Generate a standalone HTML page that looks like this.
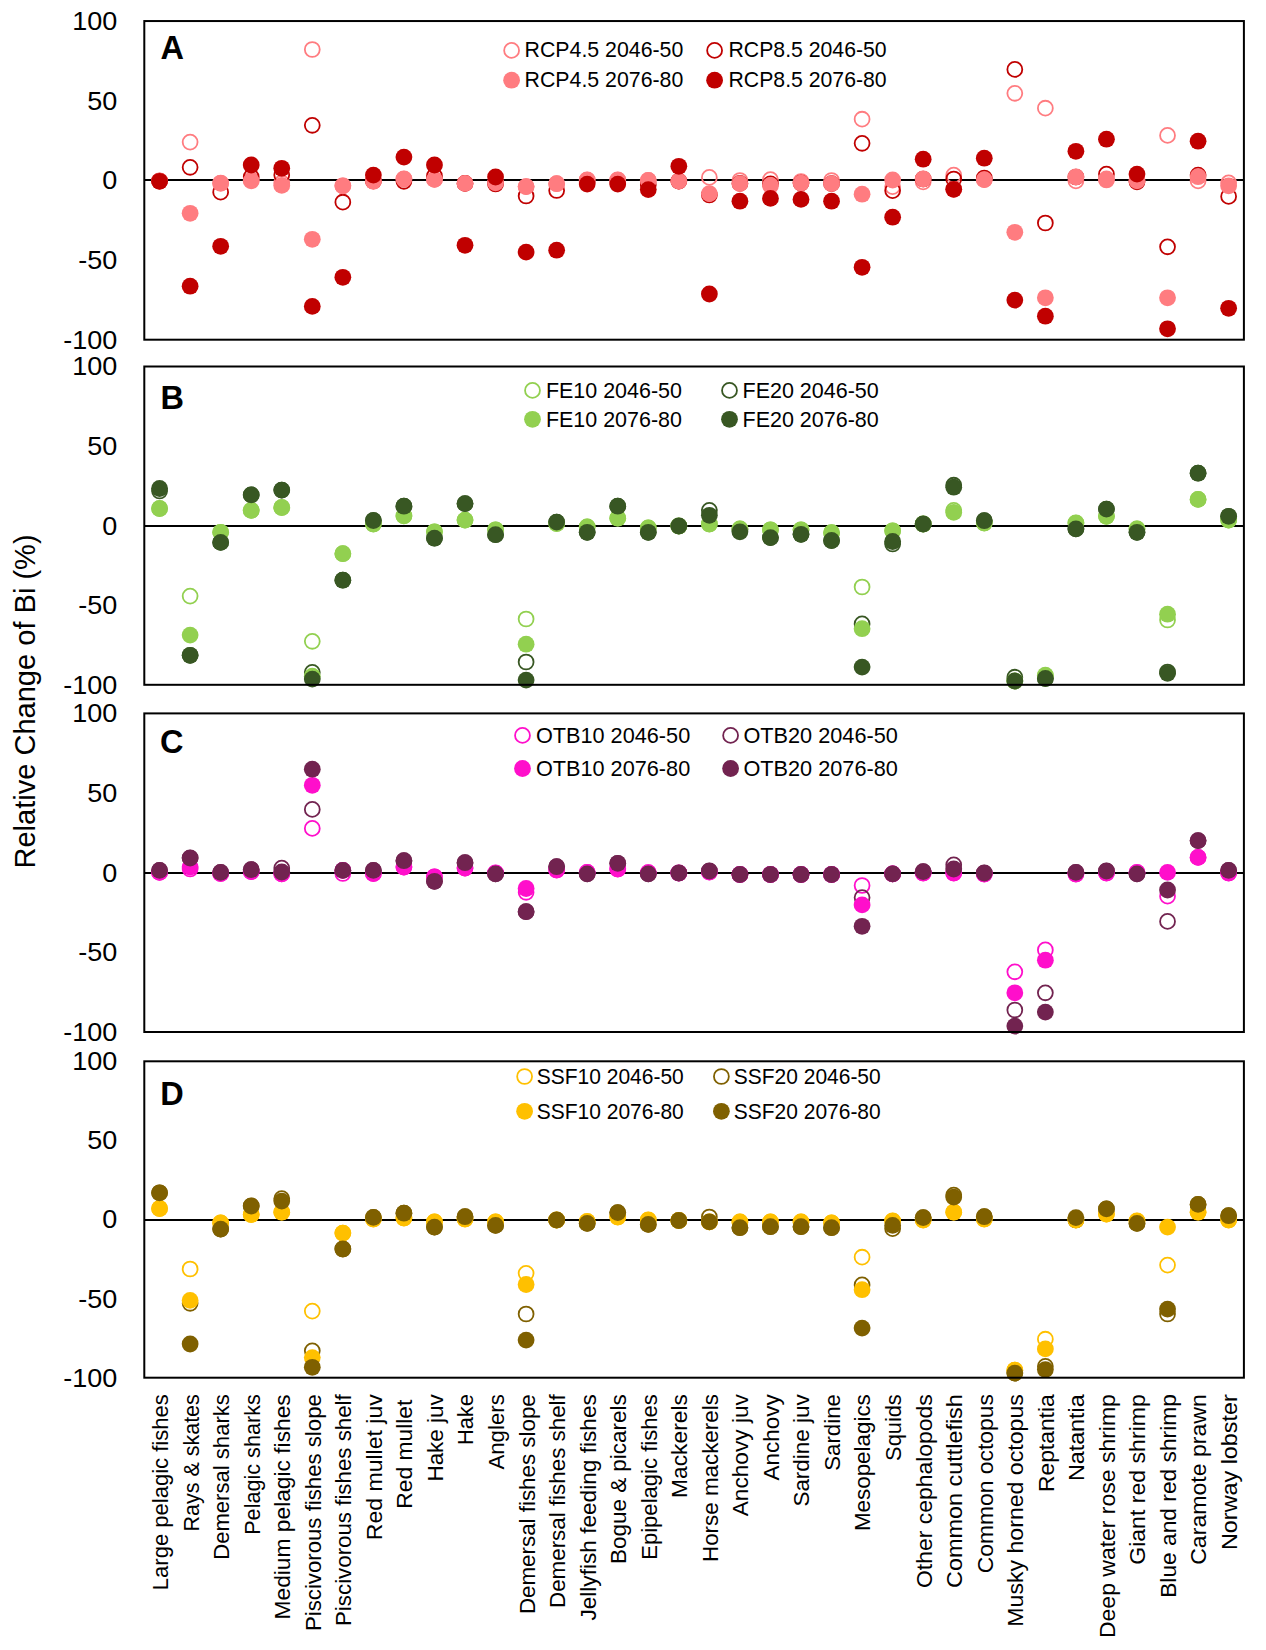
<!DOCTYPE html>
<html><head><meta charset="utf-8"><title>Relative Change of Bi</title>
<style>
html,body{margin:0;padding:0;background:#fff;}
body{width:1266px;height:1650px;overflow:hidden;}
svg{display:block;font-family:"Liberation Sans",sans-serif;}
.t{font-size:25px;fill:#000;}
.lg{font-size:22px;fill:#000;}
.cat{font-size:22.3px;fill:#000;}
.pl{font-size:32.5px;font-weight:bold;fill:#000;}
.yt{font-size:29.5px;fill:#000;}
</style></head><body>
<svg width="1266" height="1650" viewBox="0 0 1266 1650">
<rect width="1266" height="1650" fill="#fff"/>

<text class="t" transform="translate(117.3,30) scale(1.08,1)" text-anchor="end">100</text>
<text class="t" transform="translate(117.3,109.66) scale(1.08,1)" text-anchor="end">50</text>
<text class="t" transform="translate(117.3,189.32) scale(1.08,1)" text-anchor="end">0</text>
<text class="t" transform="translate(117.3,268.99) scale(1.08,1)" text-anchor="end">-50</text>
<text class="t" transform="translate(117.3,348.65) scale(1.08,1)" text-anchor="end">-100</text>
<line x1="144.3" y1="179.95" x2="1243.9" y2="179.95" stroke="#000" stroke-width="2.0"/>
<g fill="none" stroke="#FF7C80" stroke-width="1.8"><circle cx="159.57" cy="181" r="7.45"/><circle cx="190.12" cy="142.1" r="7.45"/><circle cx="220.66" cy="183" r="7.45"/><circle cx="251.21" cy="180" r="7.45"/><circle cx="281.75" cy="183" r="7.45"/><circle cx="312.29" cy="49.5" r="7.45"/><circle cx="342.84" cy="185.8" r="7.45"/><circle cx="373.38" cy="181" r="7.45"/><circle cx="403.93" cy="179" r="7.45"/><circle cx="434.47" cy="179.4" r="7.45"/><circle cx="465.02" cy="183.4" r="7.45"/><circle cx="495.56" cy="182.9" r="7.45"/><circle cx="526.11" cy="186.6" r="7.45"/><circle cx="556.65" cy="183.7" r="7.45"/><circle cx="587.19" cy="180" r="7.45"/><circle cx="617.74" cy="180" r="7.45"/><circle cx="648.28" cy="180.4" r="7.45"/><circle cx="678.83" cy="181.1" r="7.45"/><circle cx="709.37" cy="177.4" r="7.45"/><circle cx="739.92" cy="180.5" r="7.45"/><circle cx="770.46" cy="179.6" r="7.45"/><circle cx="801.01" cy="181.5" r="7.45"/><circle cx="831.55" cy="180.5" r="7.45"/><circle cx="862.09" cy="119.2" r="7.45"/><circle cx="892.64" cy="186.7" r="7.45"/><circle cx="923.18" cy="181.9" r="7.45"/><circle cx="953.73" cy="175.1" r="7.45"/><circle cx="984.27" cy="179.6" r="7.45"/><circle cx="1014.82" cy="93.3" r="7.45"/><circle cx="1045.36" cy="108.2" r="7.45"/><circle cx="1075.91" cy="180.9" r="7.45"/><circle cx="1106.45" cy="180" r="7.45"/><circle cx="1136.99" cy="180.9" r="7.45"/><circle cx="1167.54" cy="135.4" r="7.45"/><circle cx="1198.08" cy="180.9" r="7.45"/><circle cx="1228.63" cy="182.9" r="7.45"/></g>
<g fill="none" stroke="#C00000" stroke-width="1.8"><circle cx="159.57" cy="181" r="7.45"/><circle cx="190.12" cy="167.3" r="7.45"/><circle cx="220.66" cy="192.2" r="7.45"/><circle cx="251.21" cy="177" r="7.45"/><circle cx="281.75" cy="175.1" r="7.45"/><circle cx="312.29" cy="125.3" r="7.45"/><circle cx="342.84" cy="202.2" r="7.45"/><circle cx="373.38" cy="181" r="7.45"/><circle cx="403.93" cy="181.3" r="7.45"/><circle cx="434.47" cy="176" r="7.45"/><circle cx="465.02" cy="183.4" r="7.45"/><circle cx="495.56" cy="184" r="7.45"/><circle cx="526.11" cy="196" r="7.45"/><circle cx="556.65" cy="190.5" r="7.45"/><circle cx="587.19" cy="182" r="7.45"/><circle cx="617.74" cy="182" r="7.45"/><circle cx="648.28" cy="185" r="7.45"/><circle cx="678.83" cy="181.1" r="7.45"/><circle cx="709.37" cy="195" r="7.45"/><circle cx="739.92" cy="183.4" r="7.45"/><circle cx="770.46" cy="183.8" r="7.45"/><circle cx="801.01" cy="183.1" r="7.45"/><circle cx="831.55" cy="183.6" r="7.45"/><circle cx="862.09" cy="143.3" r="7.45"/><circle cx="892.64" cy="190.6" r="7.45"/><circle cx="923.18" cy="179" r="7.45"/><circle cx="953.73" cy="179" r="7.45"/><circle cx="984.27" cy="178" r="7.45"/><circle cx="1014.82" cy="69.4" r="7.45"/><circle cx="1045.36" cy="223" r="7.45"/><circle cx="1075.91" cy="177" r="7.45"/><circle cx="1106.45" cy="174.1" r="7.45"/><circle cx="1136.99" cy="181.9" r="7.45"/><circle cx="1167.54" cy="246.8" r="7.45"/><circle cx="1198.08" cy="175.1" r="7.45"/><circle cx="1228.63" cy="196.4" r="7.45"/></g>
<g fill="#FF7C80"><circle cx="159.57" cy="181" r="8.4"/><circle cx="190.12" cy="213.3" r="8.4"/><circle cx="220.66" cy="183.4" r="8.4"/><circle cx="251.21" cy="180.9" r="8.4"/><circle cx="281.75" cy="185.4" r="8.4"/><circle cx="312.29" cy="239.3" r="8.4"/><circle cx="342.84" cy="185.8" r="8.4"/><circle cx="373.38" cy="181.3" r="8.4"/><circle cx="403.93" cy="179" r="8.4"/><circle cx="434.47" cy="179.4" r="8.4"/><circle cx="465.02" cy="183.4" r="8.4"/><circle cx="495.56" cy="182.9" r="8.4"/><circle cx="526.11" cy="186.6" r="8.4"/><circle cx="556.65" cy="183.7" r="8.4"/><circle cx="587.19" cy="180" r="8.4"/><circle cx="617.74" cy="180" r="8.4"/><circle cx="648.28" cy="180.4" r="8.4"/><circle cx="678.83" cy="181.1" r="8.4"/><circle cx="709.37" cy="193.6" r="8.4"/><circle cx="739.92" cy="183.6" r="8.4"/><circle cx="770.46" cy="185.5" r="8.4"/><circle cx="801.01" cy="183.1" r="8.4"/><circle cx="831.55" cy="183.6" r="8.4"/><circle cx="862.09" cy="194.2" r="8.4"/><circle cx="892.64" cy="180" r="8.4"/><circle cx="923.18" cy="179" r="8.4"/><circle cx="953.73" cy="189.3" r="8.4"/><circle cx="984.27" cy="179.6" r="8.4"/><circle cx="1014.82" cy="232.3" r="8.4"/><circle cx="1045.36" cy="297.8" r="8.4"/><circle cx="1075.91" cy="177" r="8.4"/><circle cx="1106.45" cy="179" r="8.4"/><circle cx="1136.99" cy="180.9" r="8.4"/><circle cx="1167.54" cy="297.8" r="8.4"/><circle cx="1198.08" cy="176.7" r="8.4"/><circle cx="1228.63" cy="185.8" r="8.4"/></g>
<g fill="#C00000"><circle cx="159.57" cy="181.3" r="8.4"/><circle cx="190.12" cy="286.2" r="8.4"/><circle cx="220.66" cy="246.3" r="8.4"/><circle cx="251.21" cy="165" r="8.4"/><circle cx="281.75" cy="168.3" r="8.4"/><circle cx="312.29" cy="306.4" r="8.4"/><circle cx="342.84" cy="277.3" r="8.4"/><circle cx="373.38" cy="175.1" r="8.4"/><circle cx="403.93" cy="157.1" r="8.4"/><circle cx="434.47" cy="165" r="8.4"/><circle cx="465.02" cy="245.3" r="8.4"/><circle cx="495.56" cy="177" r="8.4"/><circle cx="526.11" cy="252.1" r="8.4"/><circle cx="556.65" cy="250.2" r="8.4"/><circle cx="587.19" cy="184.1" r="8.4"/><circle cx="617.74" cy="184.1" r="8.4"/><circle cx="648.28" cy="189.6" r="8.4"/><circle cx="678.83" cy="166.3" r="8.4"/><circle cx="709.37" cy="294" r="8.4"/><circle cx="739.92" cy="201.2" r="8.4"/><circle cx="770.46" cy="198.4" r="8.4"/><circle cx="801.01" cy="199.4" r="8.4"/><circle cx="831.55" cy="201.2" r="8.4"/><circle cx="862.09" cy="267.3" r="8.4"/><circle cx="892.64" cy="217.2" r="8.4"/><circle cx="923.18" cy="159.2" r="8.4"/><circle cx="953.73" cy="189.3" r="8.4"/><circle cx="984.27" cy="158.2" r="8.4"/><circle cx="1014.82" cy="300.1" r="8.4"/><circle cx="1045.36" cy="316.2" r="8.4"/><circle cx="1075.91" cy="151.3" r="8.4"/><circle cx="1106.45" cy="139.2" r="8.4"/><circle cx="1136.99" cy="174.1" r="8.4"/><circle cx="1167.54" cy="328.8" r="8.4"/><circle cx="1198.08" cy="141.2" r="8.4"/><circle cx="1228.63" cy="308.3" r="8.4"/></g>
<rect x="144.3" y="21.05" width="1099.6" height="318.65" fill="none" stroke="#000" stroke-width="2.0"/>
<text class="pl" x="160.5" y="59.2">A</text>
<circle cx="511.6" cy="50.4" r="7.45" fill="none" stroke="#FF7C80" stroke-width="1.8"/>
<text class="lg" x="524.6" y="56.8" textLength="158.69" lengthAdjust="spacingAndGlyphs">RCP4.5 2046-50</text>
<circle cx="714.6" cy="50.4" r="7.45" fill="none" stroke="#C00000" stroke-width="1.8"/>
<text class="lg" x="728.5" y="56.8" textLength="158.19" lengthAdjust="spacingAndGlyphs">RCP8.5 2046-50</text>
<circle cx="511.6" cy="80.2" r="8.4" fill="#FF7C80"/>
<text class="lg" x="524.6" y="86.6" textLength="158.69" lengthAdjust="spacingAndGlyphs">RCP4.5 2076-80</text>
<circle cx="714.6" cy="80.2" r="8.4" fill="#C00000"/>
<text class="lg" x="728.5" y="86.6" textLength="158.19" lengthAdjust="spacingAndGlyphs">RCP8.5 2076-80</text>
<text class="t" transform="translate(117.3,375.45) scale(1.08,1)" text-anchor="end">100</text>
<text class="t" transform="translate(117.3,455.02) scale(1.08,1)" text-anchor="end">50</text>
<text class="t" transform="translate(117.3,534.6) scale(1.08,1)" text-anchor="end">0</text>
<text class="t" transform="translate(117.3,614.17) scale(1.08,1)" text-anchor="end">-50</text>
<text class="t" transform="translate(117.3,693.75) scale(1.08,1)" text-anchor="end">-100</text>
<line x1="144.3" y1="526.1" x2="1243.9" y2="526.1" stroke="#000" stroke-width="2.0"/>
<g fill="none" stroke="#92D050" stroke-width="1.8"><circle cx="159.57" cy="508.5" r="7.45"/><circle cx="190.12" cy="596.1" r="7.45"/><circle cx="220.66" cy="532.3" r="7.45"/><circle cx="251.21" cy="510.4" r="7.45"/><circle cx="281.75" cy="507.5" r="7.45"/><circle cx="312.29" cy="641.3" r="7.45"/><circle cx="342.84" cy="553.7" r="7.45"/><circle cx="373.38" cy="524" r="7.45"/><circle cx="403.93" cy="515.9" r="7.45"/><circle cx="434.47" cy="531.8" r="7.45"/><circle cx="465.02" cy="520.1" r="7.45"/><circle cx="495.56" cy="529.8" r="7.45"/><circle cx="526.11" cy="619" r="7.45"/><circle cx="556.65" cy="523.5" r="7.45"/><circle cx="587.19" cy="526.9" r="7.45"/><circle cx="617.74" cy="518.2" r="7.45"/><circle cx="648.28" cy="527.9" r="7.45"/><circle cx="678.83" cy="526" r="7.45"/><circle cx="709.37" cy="524" r="7.45"/><circle cx="739.92" cy="528.9" r="7.45"/><circle cx="770.46" cy="529.8" r="7.45"/><circle cx="801.01" cy="529.8" r="7.45"/><circle cx="831.55" cy="532.7" r="7.45"/><circle cx="862.09" cy="587" r="7.45"/><circle cx="892.64" cy="530.8" r="7.45"/><circle cx="923.18" cy="524" r="7.45"/><circle cx="953.73" cy="510.4" r="7.45"/><circle cx="984.27" cy="523" r="7.45"/><circle cx="1014.82" cy="681" r="7.45"/><circle cx="1045.36" cy="676" r="7.45"/><circle cx="1075.91" cy="523" r="7.45"/><circle cx="1106.45" cy="516.3" r="7.45"/><circle cx="1136.99" cy="528.9" r="7.45"/><circle cx="1167.54" cy="620" r="7.45"/><circle cx="1198.08" cy="499.4" r="7.45"/><circle cx="1228.63" cy="520.1" r="7.45"/></g>
<g fill="none" stroke="#385723" stroke-width="1.8"><circle cx="159.57" cy="491" r="7.45"/><circle cx="190.12" cy="655.3" r="7.45"/><circle cx="220.66" cy="542.4" r="7.45"/><circle cx="251.21" cy="494.9" r="7.45"/><circle cx="281.75" cy="490.1" r="7.45"/><circle cx="312.29" cy="672.3" r="7.45"/><circle cx="342.84" cy="580.2" r="7.45"/><circle cx="373.38" cy="520.5" r="7.45"/><circle cx="403.93" cy="506.2" r="7.45"/><circle cx="434.47" cy="538.2" r="7.45"/><circle cx="465.02" cy="503.6" r="7.45"/><circle cx="495.56" cy="534.7" r="7.45"/><circle cx="526.11" cy="662" r="7.45"/><circle cx="556.65" cy="522.1" r="7.45"/><circle cx="587.19" cy="532.3" r="7.45"/><circle cx="617.74" cy="506.2" r="7.45"/><circle cx="648.28" cy="532.3" r="7.45"/><circle cx="678.83" cy="526" r="7.45"/><circle cx="709.37" cy="510.4" r="7.45"/><circle cx="739.92" cy="530" r="7.45"/><circle cx="770.46" cy="537.6" r="7.45"/><circle cx="801.01" cy="534.3" r="7.45"/><circle cx="831.55" cy="540.5" r="7.45"/><circle cx="862.09" cy="623.9" r="7.45"/><circle cx="892.64" cy="544" r="7.45"/><circle cx="923.18" cy="524" r="7.45"/><circle cx="953.73" cy="485.2" r="7.45"/><circle cx="984.27" cy="520.7" r="7.45"/><circle cx="1014.82" cy="677.2" r="7.45"/><circle cx="1045.36" cy="678.5" r="7.45"/><circle cx="1075.91" cy="528.9" r="7.45"/><circle cx="1106.45" cy="509.1" r="7.45"/><circle cx="1136.99" cy="532.3" r="7.45"/><circle cx="1167.54" cy="672" r="7.45"/><circle cx="1198.08" cy="473.2" r="7.45"/><circle cx="1228.63" cy="516.3" r="7.45"/></g>
<g fill="#92D050"><circle cx="159.57" cy="508.5" r="8.4"/><circle cx="190.12" cy="635.1" r="8.4"/><circle cx="220.66" cy="532.3" r="8.4"/><circle cx="251.21" cy="510.4" r="8.4"/><circle cx="281.75" cy="507.5" r="8.4"/><circle cx="312.29" cy="676.2" r="8.4"/><circle cx="342.84" cy="553.7" r="8.4"/><circle cx="373.38" cy="524" r="8.4"/><circle cx="403.93" cy="515.9" r="8.4"/><circle cx="434.47" cy="531.8" r="8.4"/><circle cx="465.02" cy="520.1" r="8.4"/><circle cx="495.56" cy="529.8" r="8.4"/><circle cx="526.11" cy="644.2" r="8.4"/><circle cx="556.65" cy="523.5" r="8.4"/><circle cx="587.19" cy="526.9" r="8.4"/><circle cx="617.74" cy="518.2" r="8.4"/><circle cx="648.28" cy="527.9" r="8.4"/><circle cx="678.83" cy="526" r="8.4"/><circle cx="709.37" cy="524" r="8.4"/><circle cx="739.92" cy="528.9" r="8.4"/><circle cx="770.46" cy="529.8" r="8.4"/><circle cx="801.01" cy="529.8" r="8.4"/><circle cx="831.55" cy="532.7" r="8.4"/><circle cx="862.09" cy="628.7" r="8.4"/><circle cx="892.64" cy="530.8" r="8.4"/><circle cx="923.18" cy="524" r="8.4"/><circle cx="953.73" cy="512.4" r="8.4"/><circle cx="984.27" cy="523" r="8.4"/><circle cx="1014.82" cy="681" r="8.4"/><circle cx="1045.36" cy="675.2" r="8.4"/><circle cx="1075.91" cy="523" r="8.4"/><circle cx="1106.45" cy="516.3" r="8.4"/><circle cx="1136.99" cy="528.9" r="8.4"/><circle cx="1167.54" cy="614.2" r="8.4"/><circle cx="1198.08" cy="499.4" r="8.4"/><circle cx="1228.63" cy="520.1" r="8.4"/></g>
<g fill="#385723"><circle cx="159.57" cy="488.5" r="8.4"/><circle cx="190.12" cy="655.3" r="8.4"/><circle cx="220.66" cy="542.4" r="8.4"/><circle cx="251.21" cy="494.9" r="8.4"/><circle cx="281.75" cy="490.1" r="8.4"/><circle cx="312.29" cy="679.1" r="8.4"/><circle cx="342.84" cy="580.2" r="8.4"/><circle cx="373.38" cy="520.5" r="8.4"/><circle cx="403.93" cy="506.2" r="8.4"/><circle cx="434.47" cy="538.2" r="8.4"/><circle cx="465.02" cy="503.6" r="8.4"/><circle cx="495.56" cy="534.7" r="8.4"/><circle cx="526.11" cy="680.1" r="8.4"/><circle cx="556.65" cy="522.1" r="8.4"/><circle cx="587.19" cy="532.3" r="8.4"/><circle cx="617.74" cy="506.2" r="8.4"/><circle cx="648.28" cy="532.3" r="8.4"/><circle cx="678.83" cy="526" r="8.4"/><circle cx="709.37" cy="515.3" r="8.4"/><circle cx="739.92" cy="531.8" r="8.4"/><circle cx="770.46" cy="537.6" r="8.4"/><circle cx="801.01" cy="534.3" r="8.4"/><circle cx="831.55" cy="540.5" r="8.4"/><circle cx="862.09" cy="667.1" r="8.4"/><circle cx="892.64" cy="541.5" r="8.4"/><circle cx="923.18" cy="524" r="8.4"/><circle cx="953.73" cy="487.2" r="8.4"/><circle cx="984.27" cy="520.7" r="8.4"/><circle cx="1014.82" cy="681" r="8.4"/><circle cx="1045.36" cy="678.5" r="8.4"/><circle cx="1075.91" cy="528.9" r="8.4"/><circle cx="1106.45" cy="509.1" r="8.4"/><circle cx="1136.99" cy="532.3" r="8.4"/><circle cx="1167.54" cy="673.3" r="8.4"/><circle cx="1198.08" cy="473.2" r="8.4"/><circle cx="1228.63" cy="516.3" r="8.4"/></g>
<rect x="144.3" y="366.5" width="1099.6" height="318.3" fill="none" stroke="#000" stroke-width="2.0"/>
<text class="pl" x="160.5" y="408.9">B</text>
<circle cx="532.5" cy="390.4" r="7.45" fill="none" stroke="#92D050" stroke-width="1.8"/>
<text class="lg" x="545.9" y="398" textLength="136.06" lengthAdjust="spacingAndGlyphs">FE10 2046-50</text>
<circle cx="729.5" cy="390.4" r="7.45" fill="none" stroke="#385723" stroke-width="1.8"/>
<text class="lg" x="742.5" y="398" textLength="136.26" lengthAdjust="spacingAndGlyphs">FE20 2046-50</text>
<circle cx="532.5" cy="419.3" r="8.4" fill="#92D050"/>
<text class="lg" x="545.9" y="426.9" textLength="136.06" lengthAdjust="spacingAndGlyphs">FE10 2076-80</text>
<circle cx="729.5" cy="419.3" r="8.4" fill="#385723"/>
<text class="lg" x="742.5" y="426.9" textLength="136.26" lengthAdjust="spacingAndGlyphs">FE20 2076-80</text>
<text class="t" transform="translate(117.3,722.35) scale(1.08,1)" text-anchor="end">100</text>
<text class="t" transform="translate(117.3,802) scale(1.08,1)" text-anchor="end">50</text>
<text class="t" transform="translate(117.3,881.65) scale(1.08,1)" text-anchor="end">0</text>
<text class="t" transform="translate(117.3,961.3) scale(1.08,1)" text-anchor="end">-50</text>
<text class="t" transform="translate(117.3,1040.95) scale(1.08,1)" text-anchor="end">-100</text>
<line x1="144.3" y1="872.9" x2="1243.9" y2="872.9" stroke="#000" stroke-width="2.0"/>
<g fill="none" stroke="#FF0FCB" stroke-width="1.8"><circle cx="159.57" cy="872.4" r="7.45"/><circle cx="190.12" cy="869" r="7.45"/><circle cx="220.66" cy="873.5" r="7.45"/><circle cx="251.21" cy="871.6" r="7.45"/><circle cx="281.75" cy="873.9" r="7.45"/><circle cx="312.29" cy="828.4" r="7.45"/><circle cx="342.84" cy="873.5" r="7.45"/><circle cx="373.38" cy="873.5" r="7.45"/><circle cx="403.93" cy="867.1" r="7.45"/><circle cx="434.47" cy="876.8" r="7.45"/><circle cx="465.02" cy="868.1" r="7.45"/><circle cx="495.56" cy="873" r="7.45"/><circle cx="526.11" cy="892.3" r="7.45"/><circle cx="556.65" cy="870" r="7.45"/><circle cx="587.19" cy="872.4" r="7.45"/><circle cx="617.74" cy="869" r="7.45"/><circle cx="648.28" cy="872.6" r="7.45"/><circle cx="678.83" cy="873" r="7.45"/><circle cx="709.37" cy="872" r="7.45"/><circle cx="739.92" cy="874.5" r="7.45"/><circle cx="770.46" cy="874.5" r="7.45"/><circle cx="801.01" cy="874.5" r="7.45"/><circle cx="831.55" cy="874.5" r="7.45"/><circle cx="862.09" cy="885.5" r="7.45"/><circle cx="892.64" cy="873.9" r="7.45"/><circle cx="923.18" cy="873" r="7.45"/><circle cx="953.73" cy="873" r="7.45"/><circle cx="984.27" cy="874" r="7.45"/><circle cx="1014.82" cy="971.8" r="7.45"/><circle cx="1045.36" cy="949.9" r="7.45"/><circle cx="1075.91" cy="874" r="7.45"/><circle cx="1106.45" cy="873" r="7.45"/><circle cx="1136.99" cy="872.5" r="7.45"/><circle cx="1167.54" cy="896.2" r="7.45"/><circle cx="1198.08" cy="857.4" r="7.45"/><circle cx="1228.63" cy="873" r="7.45"/></g>
<g fill="none" stroke="#722350" stroke-width="1.8"><circle cx="159.57" cy="870.4" r="7.45"/><circle cx="190.12" cy="858" r="7.45"/><circle cx="220.66" cy="872.4" r="7.45"/><circle cx="251.21" cy="869.7" r="7.45"/><circle cx="281.75" cy="868.1" r="7.45"/><circle cx="312.29" cy="809.4" r="7.45"/><circle cx="342.84" cy="870.4" r="7.45"/><circle cx="373.38" cy="870.4" r="7.45"/><circle cx="403.93" cy="860.7" r="7.45"/><circle cx="434.47" cy="881.3" r="7.45"/><circle cx="465.02" cy="862.7" r="7.45"/><circle cx="495.56" cy="873.9" r="7.45"/><circle cx="526.11" cy="911.7" r="7.45"/><circle cx="556.65" cy="866.7" r="7.45"/><circle cx="587.19" cy="873.9" r="7.45"/><circle cx="617.74" cy="863.3" r="7.45"/><circle cx="648.28" cy="873.9" r="7.45"/><circle cx="678.83" cy="873" r="7.45"/><circle cx="709.37" cy="871" r="7.45"/><circle cx="739.92" cy="874.5" r="7.45"/><circle cx="770.46" cy="874.5" r="7.45"/><circle cx="801.01" cy="874.5" r="7.45"/><circle cx="831.55" cy="874.5" r="7.45"/><circle cx="862.09" cy="897.6" r="7.45"/><circle cx="892.64" cy="873.9" r="7.45"/><circle cx="923.18" cy="871.6" r="7.45"/><circle cx="953.73" cy="864.8" r="7.45"/><circle cx="984.27" cy="873" r="7.45"/><circle cx="1014.82" cy="1010" r="7.45"/><circle cx="1045.36" cy="992.8" r="7.45"/><circle cx="1075.91" cy="872.4" r="7.45"/><circle cx="1106.45" cy="871" r="7.45"/><circle cx="1136.99" cy="873.9" r="7.45"/><circle cx="1167.54" cy="921.4" r="7.45"/><circle cx="1198.08" cy="840.6" r="7.45"/><circle cx="1228.63" cy="870.4" r="7.45"/></g>
<g fill="#FF0FCB"><circle cx="159.57" cy="872.4" r="8.4"/><circle cx="190.12" cy="867.1" r="8.4"/><circle cx="220.66" cy="873.5" r="8.4"/><circle cx="251.21" cy="871.6" r="8.4"/><circle cx="281.75" cy="873.9" r="8.4"/><circle cx="312.29" cy="785.3" r="8.4"/><circle cx="342.84" cy="870.4" r="8.4"/><circle cx="373.38" cy="873.5" r="8.4"/><circle cx="403.93" cy="867.1" r="8.4"/><circle cx="434.47" cy="876.8" r="8.4"/><circle cx="465.02" cy="868.1" r="8.4"/><circle cx="495.56" cy="873" r="8.4"/><circle cx="526.11" cy="888.5" r="8.4"/><circle cx="556.65" cy="870" r="8.4"/><circle cx="587.19" cy="872.4" r="8.4"/><circle cx="617.74" cy="869" r="8.4"/><circle cx="648.28" cy="872.6" r="8.4"/><circle cx="678.83" cy="873" r="8.4"/><circle cx="709.37" cy="872" r="8.4"/><circle cx="739.92" cy="874.5" r="8.4"/><circle cx="770.46" cy="874.5" r="8.4"/><circle cx="801.01" cy="874.5" r="8.4"/><circle cx="831.55" cy="874.5" r="8.4"/><circle cx="862.09" cy="904.9" r="8.4"/><circle cx="892.64" cy="873.9" r="8.4"/><circle cx="923.18" cy="873" r="8.4"/><circle cx="953.73" cy="873" r="8.4"/><circle cx="984.27" cy="874" r="8.4"/><circle cx="1014.82" cy="992.8" r="8.4"/><circle cx="1045.36" cy="960.2" r="8.4"/><circle cx="1075.91" cy="874" r="8.4"/><circle cx="1106.45" cy="873" r="8.4"/><circle cx="1136.99" cy="872.5" r="8.4"/><circle cx="1167.54" cy="872.4" r="8.4"/><circle cx="1198.08" cy="857.4" r="8.4"/><circle cx="1228.63" cy="873" r="8.4"/></g>
<g fill="#722350"><circle cx="159.57" cy="870.4" r="8.4"/><circle cx="190.12" cy="858" r="8.4"/><circle cx="220.66" cy="872.4" r="8.4"/><circle cx="251.21" cy="869.7" r="8.4"/><circle cx="281.75" cy="872" r="8.4"/><circle cx="312.29" cy="769.2" r="8.4"/><circle cx="342.84" cy="870.4" r="8.4"/><circle cx="373.38" cy="870.4" r="8.4"/><circle cx="403.93" cy="860.7" r="8.4"/><circle cx="434.47" cy="881.3" r="8.4"/><circle cx="465.02" cy="862.7" r="8.4"/><circle cx="495.56" cy="873.9" r="8.4"/><circle cx="526.11" cy="911.7" r="8.4"/><circle cx="556.65" cy="866.7" r="8.4"/><circle cx="587.19" cy="873.9" r="8.4"/><circle cx="617.74" cy="863.3" r="8.4"/><circle cx="648.28" cy="873.9" r="8.4"/><circle cx="678.83" cy="873" r="8.4"/><circle cx="709.37" cy="871" r="8.4"/><circle cx="739.92" cy="874.5" r="8.4"/><circle cx="770.46" cy="874.5" r="8.4"/><circle cx="801.01" cy="874.5" r="8.4"/><circle cx="831.55" cy="874.5" r="8.4"/><circle cx="862.09" cy="926.3" r="8.4"/><circle cx="892.64" cy="873.9" r="8.4"/><circle cx="923.18" cy="871.6" r="8.4"/><circle cx="953.73" cy="869" r="8.4"/><circle cx="984.27" cy="873" r="8.4"/><circle cx="1014.82" cy="1026.1" r="8.4"/><circle cx="1045.36" cy="1012.1" r="8.4"/><circle cx="1075.91" cy="872.4" r="8.4"/><circle cx="1106.45" cy="871" r="8.4"/><circle cx="1136.99" cy="873.9" r="8.4"/><circle cx="1167.54" cy="890" r="8.4"/><circle cx="1198.08" cy="840.6" r="8.4"/><circle cx="1228.63" cy="870.4" r="8.4"/></g>
<rect x="144.3" y="713.4" width="1099.6" height="318.6" fill="none" stroke="#000" stroke-width="2.0"/>
<text class="pl" x="160.0" y="752.9">C</text>
<circle cx="522.5" cy="735.4" r="7.45" fill="none" stroke="#FF0FCB" stroke-width="1.8"/>
<text class="lg" x="535.9" y="742.65" textLength="154.32" lengthAdjust="spacingAndGlyphs">OTB10 2046-50</text>
<circle cx="730.6" cy="735.4" r="7.45" fill="none" stroke="#722350" stroke-width="1.8"/>
<text class="lg" x="743.4" y="742.65" textLength="154.42" lengthAdjust="spacingAndGlyphs">OTB20 2046-50</text>
<circle cx="522.5" cy="768.5" r="8.4" fill="#FF0FCB"/>
<text class="lg" x="535.9" y="775.75" textLength="154.32" lengthAdjust="spacingAndGlyphs">OTB10 2076-80</text>
<circle cx="730.6" cy="768.5" r="8.4" fill="#722350"/>
<text class="lg" x="743.4" y="775.75" textLength="154.42" lengthAdjust="spacingAndGlyphs">OTB20 2076-80</text>
<text class="t" transform="translate(117.3,1070.25) scale(1.08,1)" text-anchor="end">100</text>
<text class="t" transform="translate(117.3,1149.35) scale(1.08,1)" text-anchor="end">50</text>
<text class="t" transform="translate(117.3,1228.45) scale(1.08,1)" text-anchor="end">0</text>
<text class="t" transform="translate(117.3,1307.55) scale(1.08,1)" text-anchor="end">-50</text>
<text class="t" transform="translate(117.3,1386.65) scale(1.08,1)" text-anchor="end">-100</text>
<line x1="144.3" y1="1219.9" x2="1243.9" y2="1219.9" stroke="#000" stroke-width="2.0"/>
<g fill="none" stroke="#FFC000" stroke-width="1.8"><circle cx="159.57" cy="1208.5" r="7.45"/><circle cx="190.12" cy="1269" r="7.45"/><circle cx="220.66" cy="1222.9" r="7.45"/><circle cx="251.21" cy="1214.5" r="7.45"/><circle cx="281.75" cy="1212.2" r="7.45"/><circle cx="312.29" cy="1311.1" r="7.45"/><circle cx="342.84" cy="1233.1" r="7.45"/><circle cx="373.38" cy="1219" r="7.45"/><circle cx="403.93" cy="1218" r="7.45"/><circle cx="434.47" cy="1221.9" r="7.45"/><circle cx="465.02" cy="1219" r="7.45"/><circle cx="495.56" cy="1221.9" r="7.45"/><circle cx="526.11" cy="1273.3" r="7.45"/><circle cx="556.65" cy="1220" r="7.45"/><circle cx="587.19" cy="1221.5" r="7.45"/><circle cx="617.74" cy="1217" r="7.45"/><circle cx="648.28" cy="1220" r="7.45"/><circle cx="678.83" cy="1220.5" r="7.45"/><circle cx="709.37" cy="1221.9" r="7.45"/><circle cx="739.92" cy="1221.9" r="7.45"/><circle cx="770.46" cy="1221.9" r="7.45"/><circle cx="801.01" cy="1221.9" r="7.45"/><circle cx="831.55" cy="1222.9" r="7.45"/><circle cx="862.09" cy="1257.2" r="7.45"/><circle cx="892.64" cy="1221" r="7.45"/><circle cx="923.18" cy="1220" r="7.45"/><circle cx="953.73" cy="1212.2" r="7.45"/><circle cx="984.27" cy="1219" r="7.45"/><circle cx="1014.82" cy="1370.2" r="7.45"/><circle cx="1045.36" cy="1339.2" r="7.45"/><circle cx="1075.91" cy="1220" r="7.45"/><circle cx="1106.45" cy="1214.1" r="7.45"/><circle cx="1136.99" cy="1221" r="7.45"/><circle cx="1167.54" cy="1265.1" r="7.45"/><circle cx="1198.08" cy="1212.2" r="7.45"/><circle cx="1228.63" cy="1220" r="7.45"/></g>
<g fill="none" stroke="#7F6000" stroke-width="1.8"><circle cx="159.57" cy="1192.8" r="7.45"/><circle cx="190.12" cy="1303.3" r="7.45"/><circle cx="220.66" cy="1229.1" r="7.45"/><circle cx="251.21" cy="1206" r="7.45"/><circle cx="281.75" cy="1198.6" r="7.45"/><circle cx="312.29" cy="1350.8" r="7.45"/><circle cx="342.84" cy="1249" r="7.45"/><circle cx="373.38" cy="1217.4" r="7.45"/><circle cx="403.93" cy="1213.2" r="7.45"/><circle cx="434.47" cy="1227.1" r="7.45"/><circle cx="465.02" cy="1216.7" r="7.45"/><circle cx="495.56" cy="1225.4" r="7.45"/><circle cx="526.11" cy="1314" r="7.45"/><circle cx="556.65" cy="1220" r="7.45"/><circle cx="587.19" cy="1223.4" r="7.45"/><circle cx="617.74" cy="1212.6" r="7.45"/><circle cx="648.28" cy="1224.4" r="7.45"/><circle cx="678.83" cy="1220.5" r="7.45"/><circle cx="709.37" cy="1217" r="7.45"/><circle cx="739.92" cy="1227.7" r="7.45"/><circle cx="770.46" cy="1226.7" r="7.45"/><circle cx="801.01" cy="1226.7" r="7.45"/><circle cx="831.55" cy="1227.7" r="7.45"/><circle cx="862.09" cy="1284.9" r="7.45"/><circle cx="892.64" cy="1228.7" r="7.45"/><circle cx="923.18" cy="1217.6" r="7.45"/><circle cx="953.73" cy="1195.1" r="7.45"/><circle cx="984.27" cy="1216.7" r="7.45"/><circle cx="1014.82" cy="1373.1" r="7.45"/><circle cx="1045.36" cy="1366.3" r="7.45"/><circle cx="1075.91" cy="1220" r="7.45"/><circle cx="1106.45" cy="1208.9" r="7.45"/><circle cx="1136.99" cy="1223.4" r="7.45"/><circle cx="1167.54" cy="1314" r="7.45"/><circle cx="1198.08" cy="1204.4" r="7.45"/><circle cx="1228.63" cy="1215.7" r="7.45"/></g>
<g fill="#FFC000"><circle cx="159.57" cy="1208.5" r="8.4"/><circle cx="190.12" cy="1300.4" r="8.4"/><circle cx="220.66" cy="1222.9" r="8.4"/><circle cx="251.21" cy="1214.5" r="8.4"/><circle cx="281.75" cy="1212.2" r="8.4"/><circle cx="312.29" cy="1357.6" r="8.4"/><circle cx="342.84" cy="1233.1" r="8.4"/><circle cx="373.38" cy="1219" r="8.4"/><circle cx="403.93" cy="1218" r="8.4"/><circle cx="434.47" cy="1221.9" r="8.4"/><circle cx="465.02" cy="1219" r="8.4"/><circle cx="495.56" cy="1221.9" r="8.4"/><circle cx="526.11" cy="1284.5" r="8.4"/><circle cx="556.65" cy="1220" r="8.4"/><circle cx="587.19" cy="1221.5" r="8.4"/><circle cx="617.74" cy="1217" r="8.4"/><circle cx="648.28" cy="1220" r="8.4"/><circle cx="678.83" cy="1220.5" r="8.4"/><circle cx="709.37" cy="1221.9" r="8.4"/><circle cx="739.92" cy="1221.9" r="8.4"/><circle cx="770.46" cy="1221.9" r="8.4"/><circle cx="801.01" cy="1221.9" r="8.4"/><circle cx="831.55" cy="1222.9" r="8.4"/><circle cx="862.09" cy="1289.7" r="8.4"/><circle cx="892.64" cy="1221" r="8.4"/><circle cx="923.18" cy="1220" r="8.4"/><circle cx="953.73" cy="1212.2" r="8.4"/><circle cx="984.27" cy="1219" r="8.4"/><circle cx="1014.82" cy="1370.2" r="8.4"/><circle cx="1045.36" cy="1348.9" r="8.4"/><circle cx="1075.91" cy="1220" r="8.4"/><circle cx="1106.45" cy="1214.1" r="8.4"/><circle cx="1136.99" cy="1221" r="8.4"/><circle cx="1167.54" cy="1227.1" r="8.4"/><circle cx="1198.08" cy="1212.2" r="8.4"/><circle cx="1228.63" cy="1220" r="8.4"/></g>
<g fill="#7F6000"><circle cx="159.57" cy="1192.8" r="8.4"/><circle cx="190.12" cy="1344" r="8.4"/><circle cx="220.66" cy="1229.1" r="8.4"/><circle cx="251.21" cy="1206" r="8.4"/><circle cx="281.75" cy="1201.1" r="8.4"/><circle cx="312.29" cy="1367.3" r="8.4"/><circle cx="342.84" cy="1249" r="8.4"/><circle cx="373.38" cy="1217.4" r="8.4"/><circle cx="403.93" cy="1213.2" r="8.4"/><circle cx="434.47" cy="1227.1" r="8.4"/><circle cx="465.02" cy="1216.7" r="8.4"/><circle cx="495.56" cy="1225.4" r="8.4"/><circle cx="526.11" cy="1340.1" r="8.4"/><circle cx="556.65" cy="1220" r="8.4"/><circle cx="587.19" cy="1223.4" r="8.4"/><circle cx="617.74" cy="1212.6" r="8.4"/><circle cx="648.28" cy="1224.4" r="8.4"/><circle cx="678.83" cy="1220.5" r="8.4"/><circle cx="709.37" cy="1221.9" r="8.4"/><circle cx="739.92" cy="1227.7" r="8.4"/><circle cx="770.46" cy="1226.7" r="8.4"/><circle cx="801.01" cy="1226.7" r="8.4"/><circle cx="831.55" cy="1227.7" r="8.4"/><circle cx="862.09" cy="1328.1" r="8.4"/><circle cx="892.64" cy="1225.4" r="8.4"/><circle cx="923.18" cy="1217.6" r="8.4"/><circle cx="953.73" cy="1197.1" r="8.4"/><circle cx="984.27" cy="1216.7" r="8.4"/><circle cx="1014.82" cy="1373.1" r="8.4"/><circle cx="1045.36" cy="1369.6" r="8.4"/><circle cx="1075.91" cy="1217.6" r="8.4"/><circle cx="1106.45" cy="1208.9" r="8.4"/><circle cx="1136.99" cy="1223.4" r="8.4"/><circle cx="1167.54" cy="1309.1" r="8.4"/><circle cx="1198.08" cy="1204.4" r="8.4"/><circle cx="1228.63" cy="1215.7" r="8.4"/></g>
<rect x="144.3" y="1061.3" width="1099.6" height="316.4" fill="none" stroke="#000" stroke-width="2.0"/>
<text class="pl" x="160.3" y="1104.8">D</text>
<circle cx="524.6" cy="1076.5" r="7.45" fill="none" stroke="#FFC000" stroke-width="1.8"/>
<text class="lg" x="536.8" y="1083.75" textLength="147" lengthAdjust="spacingAndGlyphs">SSF10 2046-50</text>
<circle cx="721.4" cy="1076.5" r="7.45" fill="none" stroke="#7F6000" stroke-width="1.8"/>
<text class="lg" x="733.8" y="1083.75" textLength="146.9" lengthAdjust="spacingAndGlyphs">SSF20 2046-50</text>
<circle cx="524.6" cy="1111.3" r="8.4" fill="#FFC000"/>
<text class="lg" x="536.8" y="1118.55" textLength="147" lengthAdjust="spacingAndGlyphs">SSF10 2076-80</text>
<circle cx="721.4" cy="1111.3" r="8.4" fill="#7F6000"/>
<text class="lg" x="733.8" y="1118.55" textLength="146.9" lengthAdjust="spacingAndGlyphs">SSF20 2076-80</text>
<text class="cat" transform="translate(167.97,1590.2) rotate(-90)" textLength="195.99" lengthAdjust="spacingAndGlyphs">Large pelagic fishes</text>
<text class="cat" transform="translate(198.52,1531.5) rotate(-90)" textLength="137.33" lengthAdjust="spacingAndGlyphs">Rays & skates</text>
<text class="cat" transform="translate(229.06,1559.8) rotate(-90)" textLength="165.65" lengthAdjust="spacingAndGlyphs">Demersal sharks</text>
<text class="cat" transform="translate(259.61,1534.8) rotate(-90)" textLength="140.56" lengthAdjust="spacingAndGlyphs">Pelagic sharks</text>
<text class="cat" transform="translate(290.15,1619.5) rotate(-90)" textLength="225.27" lengthAdjust="spacingAndGlyphs">Medium pelagic fishes</text>
<text class="cat" transform="translate(320.69,1631) rotate(-90)" textLength="236.84" lengthAdjust="spacingAndGlyphs">Piscivorous fishes slope</text>
<text class="cat" transform="translate(351.24,1626) rotate(-90)" textLength="231.76" lengthAdjust="spacingAndGlyphs">Piscivorous fishes shelf</text>
<text class="cat" transform="translate(381.78,1540.2) rotate(-90)" textLength="146.03" lengthAdjust="spacingAndGlyphs">Red mullet juv</text>
<text class="cat" transform="translate(412.33,1508.7) rotate(-90)" textLength="109.1" lengthAdjust="spacingAndGlyphs">Red mullet</text>
<text class="cat" transform="translate(442.87,1481.6) rotate(-90)" textLength="87.42" lengthAdjust="spacingAndGlyphs">Hake juv</text>
<text class="cat" transform="translate(473.42,1445.1) rotate(-90)" textLength="50.89" lengthAdjust="spacingAndGlyphs">Hake</text>
<text class="cat" transform="translate(503.96,1469.6) rotate(-90)" textLength="75.42" lengthAdjust="spacingAndGlyphs">Anglers</text>
<text class="cat" transform="translate(534.51,1614.1) rotate(-90)" textLength="219.85" lengthAdjust="spacingAndGlyphs">Demersal fishes slope</text>
<text class="cat" transform="translate(565.05,1608) rotate(-90)" textLength="213.78" lengthAdjust="spacingAndGlyphs">Demersal fishes shelf</text>
<text class="cat" transform="translate(595.59,1620.6) rotate(-90)" textLength="226.41" lengthAdjust="spacingAndGlyphs">Jellyfish feeding fishes</text>
<text class="cat" transform="translate(626.14,1564.1) rotate(-90)" textLength="169.91" lengthAdjust="spacingAndGlyphs">Bogue &amp; picarels</text>
<text class="cat" transform="translate(656.68,1559.8) rotate(-90)" textLength="165.59" lengthAdjust="spacingAndGlyphs">Epipelagic fishes</text>
<text class="cat" transform="translate(687.23,1497.9) rotate(-90)" textLength="103.74" lengthAdjust="spacingAndGlyphs">Mackerels</text>
<text class="cat" transform="translate(717.77,1562) rotate(-90)" textLength="167.85" lengthAdjust="spacingAndGlyphs">Horse mackerels</text>
<text class="cat" transform="translate(748.32,1516.3) rotate(-90)" textLength="122.14" lengthAdjust="spacingAndGlyphs">Anchovy juv</text>
<text class="cat" transform="translate(778.86,1480.5) rotate(-90)" textLength="86.31" lengthAdjust="spacingAndGlyphs">Anchovy</text>
<text class="cat" transform="translate(809.41,1506.6) rotate(-90)" textLength="112.36" lengthAdjust="spacingAndGlyphs">Sardine juv</text>
<text class="cat" transform="translate(839.95,1470.7) rotate(-90)" textLength="76.54" lengthAdjust="spacingAndGlyphs">Sardine</text>
<text class="cat" transform="translate(870.49,1531.1) rotate(-90)" textLength="136.89" lengthAdjust="spacingAndGlyphs">Mesopelagics</text>
<text class="cat" transform="translate(901.04,1460.9) rotate(-90)" textLength="66.65" lengthAdjust="spacingAndGlyphs">Squids</text>
<text class="cat" transform="translate(931.58,1588) rotate(-90)" textLength="193.81" lengthAdjust="spacingAndGlyphs">Other cephalopods</text>
<text class="cat" transform="translate(962.13,1588) rotate(-90)" textLength="193.82" lengthAdjust="spacingAndGlyphs">Common cuttlefish</text>
<text class="cat" transform="translate(992.67,1573.2) rotate(-90)" textLength="179.05" lengthAdjust="spacingAndGlyphs">Common octopus</text>
<text class="cat" transform="translate(1023.22,1626.7) rotate(-90)" textLength="232.53" lengthAdjust="spacingAndGlyphs">Musky horned octopus</text>
<text class="cat" transform="translate(1053.76,1492) rotate(-90)" textLength="97.71" lengthAdjust="spacingAndGlyphs">Reptantia</text>
<text class="cat" transform="translate(1084.31,1481.1) rotate(-90)" textLength="86.78" lengthAdjust="spacingAndGlyphs">Natantia</text>
<text class="cat" transform="translate(1114.85,1638) rotate(-90)" textLength="243.81" lengthAdjust="spacingAndGlyphs">Deep water rose shrimp</text>
<text class="cat" transform="translate(1145.39,1564.8) rotate(-90)" textLength="170.64" lengthAdjust="spacingAndGlyphs">Giant red shrimp</text>
<text class="cat" transform="translate(1175.94,1597.8) rotate(-90)" textLength="203.59" lengthAdjust="spacingAndGlyphs">Blue and red shrimp</text>
<text class="cat" transform="translate(1206.48,1564.8) rotate(-90)" textLength="170.65" lengthAdjust="spacingAndGlyphs">Caramote prawn</text>
<text class="cat" transform="translate(1237.03,1550) rotate(-90)" textLength="155.78" lengthAdjust="spacingAndGlyphs">Norway lobster</text>
<text class="yt" transform="translate(34.8,868.6) rotate(-90)" textLength="334.22" lengthAdjust="spacingAndGlyphs">Relative Change of Bi (%)</text>
</svg></body></html>
